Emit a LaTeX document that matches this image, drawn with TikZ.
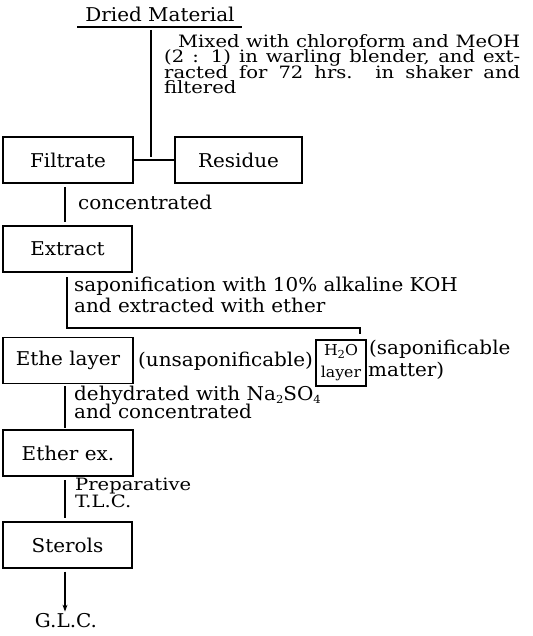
\documentclass[tikz,border=0pt]{standalone}
\usepackage{fontspec}
\setmainfont{DejaVu Serif}[FakeStretch=1.05]
\newfontfamily\widefont{DejaVu Serif}[FakeStretch=1.15]
\usetikzlibrary{arrows.meta}
\newcommand\mysub[1]{\raisebox{-0.35ex}{\fontsize{11}{11}\selectfont #1}}
\begin{document}
\begin{tikzpicture}[x=1pt,y=-1pt,
  every node/.style={font=\fontsize{19}{16}\selectfont, inner sep=0pt},
  conn/.style={line width=1.1pt},
  stepbox/.style={draw, line width=1.3pt, minimum width=130pt, minimum height=46pt},
  txt/.style={anchor=base west},
  para/.style={anchor=base west, font=\widefont\fontsize{17}{15}\selectfont}]
\useasboundingbox[fill=white] (0,0) rectangle (532,636);

% top
\node (dm) at (160,14) {Dried Material};
\coordinate (ul1) at (77,27);
\coordinate (ul2) at (242,27);
\draw[conn] (ul1) -- (ul2);

\node[para] (m1) at (178,47.5) {\makebox[342pt][s]{Mixed with chloroform and MeOH}};
\node[para] (m2) at (164,63) {\makebox[356pt][s]{(2 : 1) in warling blender, and ext-}};
\node[para] (m3) at (164,78.5) {\makebox[356pt][s]{racted for 72 hrs. in shaker and}};
\node[para] (m4) at (164,94) {filtered};

\node[stepbox] (filt) at (68,160) {Filtrate};
\node[stepbox, minimum width=127pt] (res) at (238.5,160) {Residue};

\coordinate (s1top) at (151,30);
\coordinate (s1bot) at (151,157);
\draw[conn] (s1top) -- (s1bot);
\draw[conn] (filt.east) -- (res.west);

% concentrated
\coordinate (s2a) at (65,187);
\coordinate (s2b) at (65,222);
\draw[conn] (s2a) -- (s2b);
\node[txt] (conc) at (78,210) {concentrated};

\node[stepbox, minimum width=129pt] (extr) at (67.5,249) {Extract};

% saponification
\coordinate (s3a) at (67,277);
\coordinate (s3b) at (67,328);
\coordinate (s3c) at (360,328);
\coordinate (s3d) at (360,334);
\draw[conn] (s3a) -- (s3b) -- (s3c) -- (s3d);
\node[txt] (sap1) at (74,291) {saponification with 10\% alkaline KOH};
\node[txt] (sap2) at (74,312) {and extracted with ether};

\node[stepbox] (ethe) at (68,360.5) {Ethe layer};
\node[txt] (unsap) at (138,366) {(unsaponificable)};
\node[stepbox, minimum width=50pt, minimum height=46pt, align=center,
      font=\fontsize{15}{22}\selectfont] (h2o) at (341,363) {H\mysub{2}O\\layer};
\node[txt] (sapm1) at (369,354) {(saponificable};
\node[txt] (sapm2) at (368,376) {matter)};

% dehydrated
\coordinate (s4a) at (65,386);
\coordinate (s4b) at (65,428);
\draw[conn] (s4a) -- (s4b);
\node[txt] (deh1) at (74,400) {dehydrated with Na\mysub{2}SO\mysub{4}};
\node[txt] (deh2) at (74,418) {and concentrated};

\node[stepbox] (ethx) at (68,453) {Ether ex.};

% TLC
\coordinate (s5a) at (65,480);
\coordinate (s5b) at (65,518);
\draw[conn] (s5a) -- (s5b);
\node[para] (tlc1) at (75,490) {Preparative};
\node[para] (tlc2) at (75,507) {T.L.C.};

\node[stepbox, minimum width=129pt] (ster) at (67.5,545) {Sterols};

\node (glc) at (66,621) {G.L.C.};
\draw[conn, -{Stealth[length=7pt,width=5pt]}] ([yshift=-3pt]ster.south -| 65,0) -- ([yshift=2pt]glc.north -| 65,0);
\end{tikzpicture}
\end{document}
